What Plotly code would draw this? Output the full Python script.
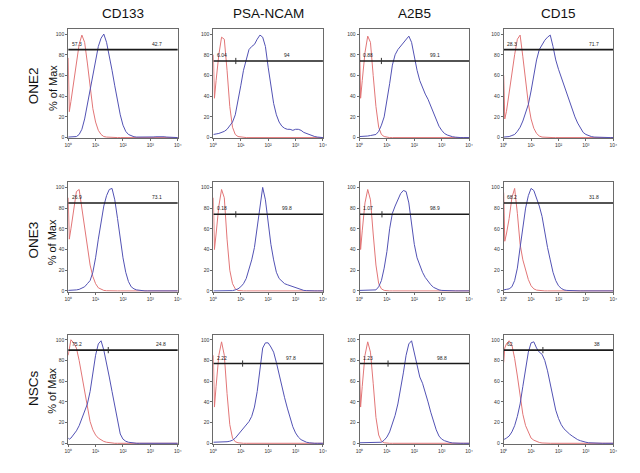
import plotly.graph_objects as go

# ---------------- data ----------------
markers = ["CD133", "PSA-NCAM", "A2B5", "CD15"]
cell_lines = ["ONE2", "ONE3", "NSCs"]

# fluorescence channel positions (log10 of intensity)
log_pos = [0, 0.04, 0.1, 0.2, 0.3, 0.4, 0.5, 0.6, 0.7, 0.8, 0.9,
           1.0, 1.1, 1.2, 1.3, 1.4, 1.5, 1.6, 1.7, 1.8, 1.9,
           2.0, 2.1, 2.2, 2.3, 2.4, 2.5, 2.6, 2.7, 2.8, 2.9,
           3.0, 3.1, 3.2, 3.3, 3.4, 3.5, 3.6, 3.7, 3.8, 3.9, 4.0]

# ---- ONE2 ----
one2_cd133_ctrl = [77, 25, 35, 55, 75, 90, 99, 92, 72, 47, 28, 15, 7, 3, 1, 0.5, 0.2] + [0] * 25
one2_cd133_stain = [0.5, 0.5, 0.6, 0.8, 1, 3, 8, 18, 32, 47, 62, 76, 88, 96, 100, 92, 80, 65, 50, 35,
                    22, 12, 6, 3, 1.5, 0.8, 0.5, 0.4, 0.3, 0.3, 0.3, 0.5, 0.6, 0.8, 1, 1, 0.8, 0.5, 0.3, 0.2, 0.1, 0]
one2_psa_ctrl = [80, 38, 55, 80, 97, 95, 65, 30, 10, 3, 1, 0.5] + [0] * 30
one2_psa_stain = [3, 3, 3.5, 4, 5, 6, 8, 11, 15, 22, 35, 50, 65, 75, 85, 88, 90, 95, 99, 97,
                  88, 68, 48, 33, 22, 15, 11, 9, 8, 8, 7, 8, 8, 7, 5, 4, 2.5, 1.5, 1, 0.5, 0.3, 0]
one2_a2b5_ctrl = [95, 38, 55, 82, 98, 92, 60, 30, 10, 3, 1, 0.3] + [0] * 30
one2_a2b5_stain = [1, 1, 1, 1, 1.5, 2, 2.5, 3, 6, 12, 20, 35, 52, 70, 80, 85, 88, 92, 95, 98,
                   92, 78, 65, 55, 48, 42, 37, 30, 24, 17, 11, 7, 4, 2.5, 1.5, 0.8, 0.4, 0, 0, 0, 0, 0]
one2_cd15_ctrl = [60, 18, 25, 45, 62, 80, 95, 99, 78, 55, 33, 18, 9, 4, 1.5, 0.5, 0.2] + [0] * 25
one2_cd15_stain = [0.5, 0.5, 0.8, 1, 2, 3, 6, 10, 16, 23, 32, 45, 60, 75, 85, 90, 94, 97, 99, 88,
                   75, 66, 58, 50, 42, 35, 27, 20, 14, 9, 5, 3, 1.8, 1, 0.5, 0.3, 0.2, 0, 0, 0, 0, 0]

# ---- ONE3 ----
one3_cd133_ctrl = [90, 50, 60, 80, 96, 98, 80, 58, 40, 25, 14, 7, 3, 1.5, 0.5, 0.2] + [0] * 26
one3_cd133_stain = [0.5, 0.5, 0.5, 0.8, 1, 1.5, 2.5, 4, 7, 10, 18, 32, 50, 68, 82, 92, 98, 99, 88, 70,
                    50, 32, 18, 9, 4, 2, 1, 0.5, 0.3, 0] + [0] * 12
one3_psa_ctrl = [90, 40, 55, 82, 98, 90, 50, 20, 7, 2, 0.5] + [0] * 31
one3_psa_stain = [0, 0, 0, 0, 0, 0, 0, 0, 0.3, 1, 2, 4, 7, 12, 20, 30, 42, 62, 85, 100,
                  88, 65, 45, 30, 18, 12, 9, 7, 6, 5, 4, 3, 2, 1, 0.5, 0.3, 0, 0, 0, 0, 0, 0]
one3_a2b5_ctrl = [90, 40, 58, 85, 98, 88, 55, 25, 7, 2, 0.5] + [0] * 31
one3_a2b5_stain = [0.5, 0.5, 0.5, 0.5, 0.5, 0.5, 0.5, 1, 4, 10, 22, 38, 60, 75, 82, 88, 94, 97, 96, 85,
                   65, 45, 32, 24, 18, 13, 9, 6, 3.5, 2, 1, 0.5, 0.3, 0, 0, 0, 0, 0, 0, 0, 0, 0]
one3_cd15_ctrl = [95, 48, 55, 70, 90, 99, 75, 45, 30, 20, 11, 5, 2, 0.8, 0.3] + [0] * 27
one3_cd15_stain = [1, 1, 1.5, 2, 4, 10, 22, 42, 62, 80, 92, 99, 97, 90, 82, 72, 55, 42, 30, 18,
                   10, 5, 2.5, 1, 0.5, 0.3] + [0] * 16

# ---- NSCs ----
nsc_cd133_ctrl = [85, 92, 100, 97, 92, 80, 65, 48, 32, 21, 13, 8, 5, 3, 1.8, 1, 0.5, 0.2] + [0] * 24
nsc_cd133_stain = [5, 4, 5, 8, 12, 17, 24, 30, 38, 50, 68, 85, 96, 99, 90, 78, 64, 50, 36, 20,
                   9, 4, 2, 1, 0.5, 0.3] + [0] * 16
nsc_psa_ctrl = [85, 35, 55, 85, 98, 85, 48, 18, 5, 1.5, 0.5] + [0] * 31
nsc_psa_stain = [1, 1, 1, 1, 1, 1, 1.5, 2, 3, 5, 8, 11, 14, 17, 21, 26, 35, 50, 72, 92,
                 97, 97, 93, 88, 78, 66, 54, 44, 34, 24, 16, 10, 6, 3.5, 2, 1, 0.5, 0, 0, 0, 0, 0]
nsc_a2b5_ctrl = [75, 35, 55, 85, 98, 88, 58, 25, 8, 2, 0.5] + [0] * 31
nsc_a2b5_stain = [0.5, 0.5, 0.5, 0.5, 0.5, 0.5, 0.5, 0.5, 0.5, 1, 3, 6, 11, 18, 27, 38, 52, 68, 85, 96,
                  99, 88, 74, 64, 58, 50, 40, 30, 21, 13, 7, 4, 2.5, 1.5, 0.8, 0.3, 0, 0, 0, 0, 0, 0]
nsc_cd15_ctrl = [78, 92, 96, 99, 95, 82, 65, 45, 28, 17, 10, 5, 3, 1.5, 0.8, 0.3] + [0] * 26
nsc_cd15_stain = [4, 4, 5, 7, 11, 17, 26, 38, 55, 72, 88, 97, 98, 92, 88, 86, 80, 70, 58, 44,
                  32, 24, 18, 14, 11, 9, 7, 5, 3.5, 2.5, 1.5, 1, 0.5, 0.3, 0, 0, 0, 0, 0, 0, 0, 0]

# gate (marker bar) heights, percentages and split points
gate_level = [[85, 74, 74, 85], [85, 74, 74, 85], [90, 77, 77, 90]]
gate_neg_pct = [["57.3", "6.04", "0.88", "28.3"],
                ["26.9", "0.18", "1.07", "68.2"],
                ["75.2", "2.22", "1.23", "62"]]
gate_pos_pct = [["42.7", "94", "99.1", "71.7"],
                ["73.1", "99.8", "98.9", "31.8"],
                ["24.8", "97.8", "98.8", "38"]]
gate_split = [[None, 6.6, 6.3, None], [None, 6.6, 6.6, None], [29, 11.7, 11, 27]]

x_tick_vals = [1, 10, 100, 1000, 10000]
x_tick_text = ["10\u2070", "10\u00b9", "10\u00b2", "10\u00b3", "10\u2074"]
y_tick_vals = [0, 20, 40, 60, 80, 100]

ctrl = [[one2_cd133_ctrl, one2_psa_ctrl, one2_a2b5_ctrl, one2_cd15_ctrl],
        [one3_cd133_ctrl, one3_psa_ctrl, one3_a2b5_ctrl, one3_cd15_ctrl],
        [nsc_cd133_ctrl, nsc_psa_ctrl, nsc_a2b5_ctrl, nsc_cd15_ctrl]]
stain = [[one2_cd133_stain, one2_psa_stain, one2_a2b5_stain, one2_cd15_stain],
         [one3_cd133_stain, one3_psa_stain, one3_a2b5_stain, one3_cd15_stain],
         [nsc_cd133_stain, nsc_psa_stain, nsc_a2b5_stain, nsc_cd15_stain]]

for row in ctrl + stain:
    for s in row:
        assert len(s) == len(log_pos), len(s)

intensity = [10 ** v for v in log_pos]

# ---------------- layout ----------------
W, H = 640, 473
col_left = [65, 212, 360, 506]
row_top = [29, 183, 336]
PW, PH = 111, 110
pos_label_x = [[3.25, 2.7, 2.75, 3.3], [3.25, 2.7, 2.75, 3.3], [3.4, 2.85, 3.0, 3.4]]

RED = "#e27677"
BLUE = "#5252b4"
FRAME = "#6a6a6a"
FONT = "Liberation Sans, Arial, sans-serif"

fig = go.Figure()
annotations = []
layout_axes = {}

for r in range(3):
    for c in range(4):
        k = r * 4 + c + 1
        sfx = "" if k == 1 else str(k)
        xa, ya = "x" + sfx, "y" + sfx
        layout_axes["xaxis" + sfx] = dict(
            domain=[col_left[c] / W, (col_left[c] + PW) / W], anchor=ya,
            type="log", range=[0, 4], showgrid=False, zeroline=False,
            showline=True, mirror=True, linecolor=FRAME, linewidth=1,
            ticks="outside", ticklen=2, tickcolor=FRAME,
            tickvals=x_tick_vals, ticktext=x_tick_text,
            tickfont=dict(size=5, color="#333", family=FONT),
        )
        layout_axes["yaxis" + sfx] = dict(
            domain=[1 - (row_top[r] + PH) / H, 1 - row_top[r] / H], anchor=xa,
            range=[-0.8, 105], showgrid=False, zeroline=False,
            showline=True, mirror=True, linecolor=FRAME, linewidth=1,
            ticks="outside", ticklen=2, tickcolor=FRAME,
            tickvals=y_tick_vals,
            tickfont=dict(size=5, color="#333", family=FONT),
        )
        fig.add_trace(go.Scatter(x=intensity, y=ctrl[r][c], xaxis=xa, yaxis=ya,
                                 mode="lines", line=dict(color=RED, width=1),
                                 showlegend=False, hoverinfo="skip"))
        fig.add_trace(go.Scatter(x=intensity, y=stain[r][c], xaxis=xa, yaxis=ya,
                                 mode="lines", line=dict(color=BLUE, width=1),
                                 showlegend=False, hoverinfo="skip"))
        lvl = gate_level[r][c]
        fig.add_trace(go.Scatter(x=[1, 10000], y=[lvl, lvl], xaxis=xa, yaxis=ya,
                                 mode="lines", line=dict(color="#1a1a1a", width=1.6),
                                 showlegend=False, hoverinfo="skip"))
        if gate_split[r][c] is not None:
            sp = gate_split[r][c]
            fig.add_trace(go.Scatter(x=[sp, sp], y=[lvl - 3, lvl + 3], xaxis=xa, yaxis=ya,
                                     mode="lines", line=dict(color="#333", width=1),
                                     showlegend=False, hoverinfo="skip"))
        annotations.append(dict(x=0.05, y=lvl + 1, xref=xa, yref=ya, text=gate_neg_pct[r][c],
                                showarrow=False, xanchor="left", yanchor="bottom",
                                font=dict(size=5, color="#222", family=FONT)))
        annotations.append(dict(x=pos_label_x[r][c], y=lvl + 1, xref=xa, yref=ya,
                                text=gate_pos_pct[r][c], showarrow=False,
                                xanchor="center", yanchor="bottom",
                                font=dict(size=5, color="#222", family=FONT)))

# column titles
for c in range(4):
    annotations.append(dict(x=(col_left[c] + PW / 2) / W, y=1 - 14 / H, xref="paper", yref="paper",
                            text=markers[c], showarrow=False, xanchor="center", yanchor="middle",
                            font=dict(size=13.5, color="#111", family=FONT)))
# row labels
row_center = [86, 241, 390]
for r in range(3):
    annotations.append(dict(x=30 / W, y=1 - row_center[r] / H, xref="paper", yref="paper",
                            text=cell_lines[r], showarrow=False, textangle=-90,
                            xanchor="center", yanchor="middle",
                            font=dict(size=13.5, color="#111", family=FONT)))
    annotations.append(dict(x=49 / W, y=1 - (row_center[r] + 2) / H, xref="paper", yref="paper",
                            text="% of Max", showarrow=False, textangle=-90,
                            xanchor="center", yanchor="middle",
                            font=dict(size=11, color="#111", family=FONT)))

fig.update_layout(width=W, height=H, autosize=False,
                  margin=dict(l=0, r=0, t=0, b=0),
                  paper_bgcolor="white", plot_bgcolor="white",
                  annotations=annotations, **layout_axes)

fig.write_html("out.html",
               config={"displayModeBar": False, "staticPlot": True},
               post_script="document.body.style.margin='0';document.body.style.overflow='hidden';")
